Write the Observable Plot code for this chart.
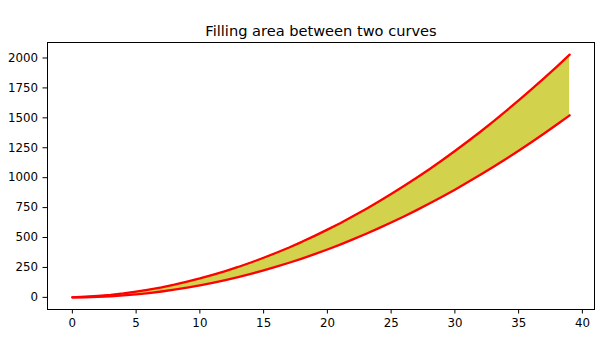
<!DOCTYPE html>
<html>
<head>
<meta charset="utf-8">
<script src="https://cdn.jsdelivr.net/npm/d3@7"></script>
<script src="https://cdn.jsdelivr.net/npm/@observablehq/plot@0.6"></script>
<style>
  html, body { margin: 0; padding: 0; background: #fff; }
  #chart { width: 600px; height: 351px; }
  svg { font-family: "DejaVu Sans", sans-serif; }
</style>
</head>
<body>
<div id="chart"></div>
<script>
const title = "Filling area between two curves";
const xs = [0,1,2,3,4,5,6,7,8,9,10,11,12,13,14,15,16,17,18,19,20,21,22,23,24,25,26,27,28,29,30,31,32,33,34,35,36,37,38,39];
const lower = [0,1,4,9,16,25,36,49,64,81,100,121,144,169,196,225,256,289,324,361,400,441,484,529,576,625,676,729,784,841,900,961,1024,1089,1156,1225,1296,1369,1444,1521];
const upper = [0,5,12,21,33,48,65,84,106,131,158,188,220,254,291,331,373,417,464,514,566,620,677,737,799,863,930,999,1071,1146,1223,1302,1384,1469,1556,1645,1737,1831,1928,2028];
const xTicks = [0,5,10,15,20,25,30,35,40];
const yTicks = [0,250,500,750,1000,1250,1500,1750,2000];

const data = xs.map((x, i) => ({x, lo: lower[i], hi: upper[i]}));

const chart = Plot.plot({
  width: 600,
  height: 351,
  marginLeft: 47,
  marginRight: 6,
  marginTop: 42,
  marginBottom: 42,
  style: {fontFamily: "DejaVu Sans, sans-serif", fontSize: "11.8px", color: "#000", background: "#fff"},
  x: {domain: [-1.95, 40.95], ticks: xTicks, tickSize: 4.5, tickPadding: 4.5, label: null, tickFormat: d => String(d)},
  y: {domain: [-101.4, 2129.4], ticks: yTicks, tickSize: 4.5, tickPadding: 5, label: null, tickFormat: d => String(d)},
  marks: [
    Plot.areaY(data, {x: "x", y1: "lo", y2: "hi", fill: "#bfbf00", fillOpacity: 0.7}),
    Plot.line(data, {x: "x", y: "lo", stroke: "#ff0000", strokeWidth: 2.3}),
    Plot.line(data, {x: "x", y: "hi", stroke: "#ff0000", strokeWidth: 2.3}),
    Plot.frame({stroke: "#000", strokeWidth: 1}),
    Plot.text([title], {frameAnchor: "top", lineAnchor: "bottom", dy: -7, fontSize: 14.6, fill: "#000"})
  ]
});
document.getElementById("chart").appendChild(chart);
</script>
</body>
</html>
